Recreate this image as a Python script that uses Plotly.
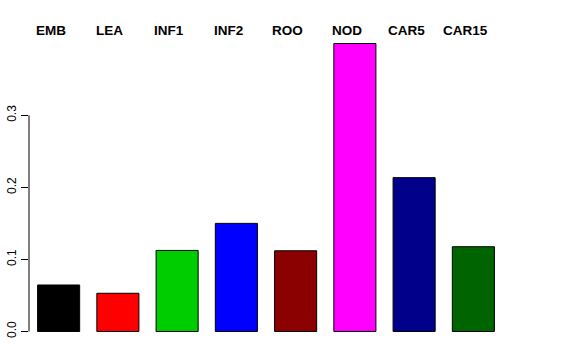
import plotly.graph_objects as go

categories = ["EMB", "LEA", "INF1", "INF2", "ROO", "NOD", "CAR5", "CAR15"]
values = [0.0645, 0.053, 0.1125, 0.150, 0.112, 0.3996, 0.2135, 0.1176]
colors = ["#000000", "#FF0000", "#00CD00", "#0000FF", "#8B0000", "#FF00FF", "#00008B", "#006400"]
ytick_vals = [0.0, 0.1, 0.2, 0.3]
ytick_text = ["0.0", "0.1", "0.2", "0.3"]

fig = go.Figure()
fig.add_trace(go.Bar(
    x=categories, y=values,
    marker=dict(color=colors, line=dict(color="#000000", width=1)),
    showlegend=False,
))

for c in categories:
    fig.add_annotation(x=c, y=1.0, xref="x", yref="paper", text="<b>%s</b>" % c,
                       showarrow=False, xshift=-8, yshift=-8, yanchor="bottom",
                       font=dict(family="Liberation Sans, Arial, sans-serif", size=13.5, color="#000000"))

# R-style axis line spanning only the tick range
fig.add_shape(type="line", xref="paper", yref="y", x0=0, x1=0,
              y0=ytick_vals[0], y1=ytick_vals[-1], line=dict(color="#000000", width=1))

fig.update_layout(
    width=576, height=360,
    margin=dict(l=29, r=73, t=32, b=17, autoexpand=False),
    paper_bgcolor="white", plot_bgcolor="white",
    bargap=0.29,
    font=dict(family="Liberation Sans, Arial, sans-serif", color="#000000"),
    xaxis=dict(visible=False, range=[-0.5, 7.5], automargin=False),
    yaxis=dict(range=[-0.016, 0.4156], tickvals=ytick_vals, ticktext=ytick_text,
               tickangle=-90, ticks="outside", ticklen=7, tickcolor="#000000",
               showgrid=False, zeroline=False, showline=False, automargin=False,
               tickfont=dict(size=12, color="#000000")),
)

fig.write_html("out.html", config={"displayModeBar": False},
               post_script="document.body.style.margin='0';document.body.style.overflow='hidden';")
